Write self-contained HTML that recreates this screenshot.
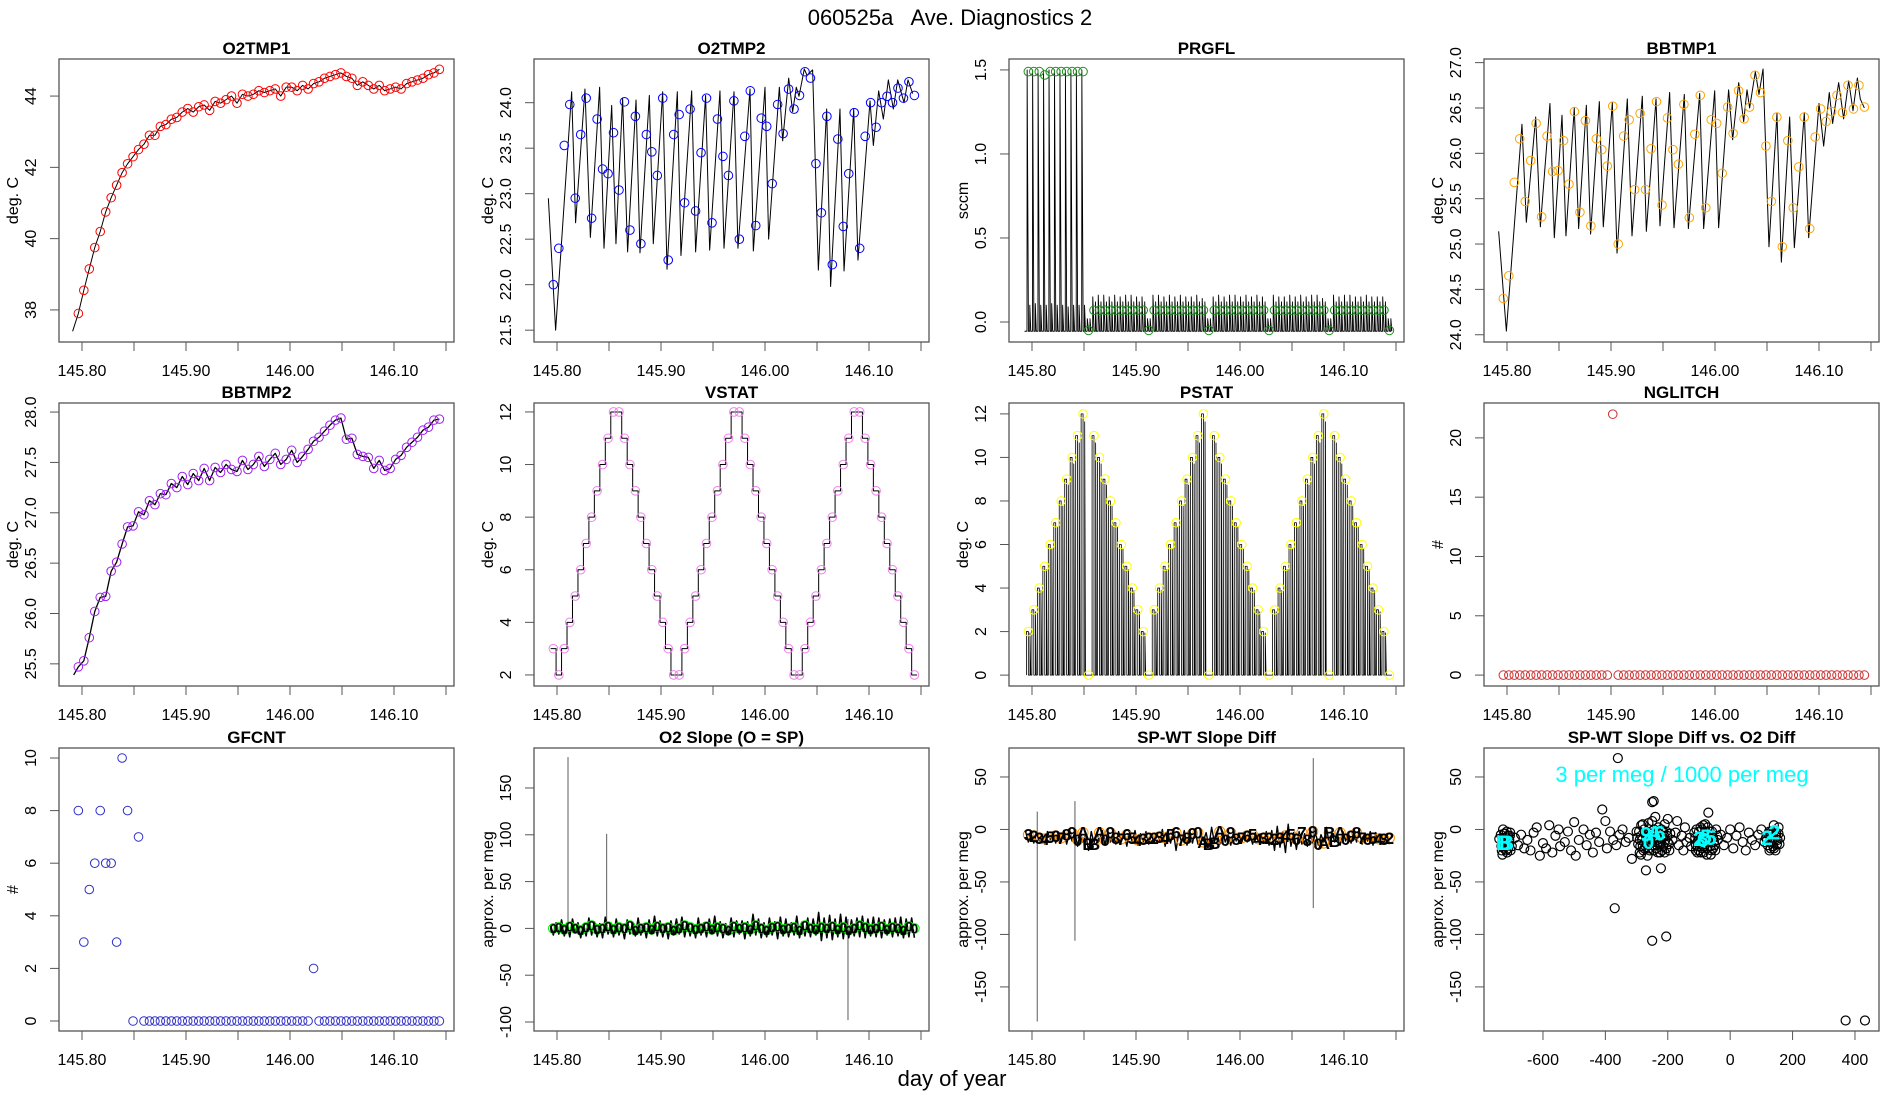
<!DOCTYPE html>
<html><head><meta charset="utf-8"><title>060525a Ave. Diagnostics 2</title>
<style>
html,body{margin:0;padding:0;background:#fff;}
svg{display:block;font-family:"Liberation Sans",Arial,sans-serif;}
</style></head>
<body>
<svg id="chart" xmlns="http://www.w3.org/2000/svg" width="1900" height="1100" viewBox="0 0 1900 1100">
<rect x="0" y="0" width="1900" height="1100" fill="#fff"/>
<text x="950" y="25" text-anchor="middle" font-size="22" xml:space="preserve">060525a   Ave. Diagnostics 2</text>
<text x="952" y="1086" text-anchor="middle" font-size="22">day of year</text>
</svg>
<script>
// ---------- data ----------
const T0 = 145.7965, DT = 0.00526;
const timeTicks = [145.80,145.85,145.90,145.95,146.00,146.05,146.10,146.15];
const timeLabels = ['145.80','','145.90','','146.00','','146.10',''];

const o2t1Pts = [37.9,38.55,39.15,39.75,40.2,40.75,41.15,41.5,41.85,42.1,42.3,42.5,42.65,42.9,42.9,43.15,43.2,43.35,43.4,43.55,43.65,43.55,43.7,43.75,43.6,43.85,43.8,43.9,44.0,43.8,44.05,44.0,44.05,44.15,44.1,44.15,44.2,44.0,44.25,44.25,44.15,44.3,44.2,44.35,44.4,44.5,44.55,44.6,44.65,44.55,44.5,44.3,44.4,44.3,44.2,44.3,44.15,44.2,44.25,44.2,44.35,44.4,44.45,44.5,44.6,44.65,44.75];
const o2t1Start = [145.791, 37.4];

const o2t2Pts = [22.0,22.4,23.53,23.98,22.95,23.65,24.05,22.73,23.82,23.27,23.22,23.67,23.04,24.01,22.6,23.85,22.45,23.65,23.46,23.2,24.05,22.27,23.65,23.87,22.9,23.93,22.81,23.45,24.05,22.68,23.82,23.41,23.2,24.02,22.5,23.63,24.13,22.65,23.83,23.74,23.11,23.98,23.66,24.15,23.93,24.08,24.34,24.27,23.33,22.79,23.85,22.22,23.6,22.64,23.22,23.89,22.4,23.63,24.0,23.73,24.0,24.07,24.0,24.16,24.05,24.23,24.08];
const o2t2LineT = [145.7917,145.7987,145.8141,145.8179,145.8269,145.8321,145.8410,145.8452,145.8526,145.8567,145.8631,145.8679,145.8760,145.8798,145.8888,145.8926,145.9016,145.9058,145.9157,145.9192,145.9295,145.9333,145.9429,145.9468,145.9567,145.9606,145.9702,145.9740,145.9856,145.9888,146.0000,146.0035,146.0138,146.0170,146.0228,146.0266,146.0301,146.0327,146.0378,146.0404,146.0458,146.0513,146.0593,146.0631,146.0721,146.0760,146.0853,146.0894,146.1010,146.1042,146.1093,146.1138,146.1186,146.1234,146.1276,146.1337,146.1375,146.1420];
const o2t2LineV = [22.95,21.5,24.12,22.68,24.15,22.52,24.17,22.4,23.97,22.45,24.05,22.36,24.03,22.35,24.08,22.45,24.12,22.17,24.12,22.32,24.13,22.36,24.08,22.38,24.13,22.4,24.12,22.4,24.15,22.37,24.17,22.5,24.17,23.58,24.27,23.9,24.17,24.07,24.37,24.3,24.36,22.16,23.93,21.98,23.93,22.15,23.93,22.27,24.02,23.53,24.13,23.82,24.25,23.93,24.25,24.0,24.25,24.1];

const prgPts = [1.49,1.49,1.49,1.47,1.49,1.49,1.49,1.49,1.49,1.49,1.49,-0.05,0.07,0.07,0.07,0.07,0.07,0.07,0.07,0.07,0.07,0.07,-0.05,0.07,0.07,0.07,0.07,0.07,0.07,0.07,0.07,0.07,0.07,-0.05,0.07,0.07,0.07,0.07,0.07,0.07,0.07,0.07,0.07,0.07,-0.05,0.07,0.07,0.07,0.07,0.07,0.07,0.07,0.07,0.07,0.07,-0.05,0.07,0.07,0.07,0.07,0.07,0.07,0.07,0.07,0.07,0.07,-0.05];
const prgHi = [1.5,1.5,1.5,1.5,1.5,1.5,1.5,1.5,1.5,1.5,1.5,0.02,0.15,0.16,0.16,0.15,0.16,0.15,0.16,0.16,0.15,0.15,0.02,0.16,0.16,0.15,0.16,0.15,0.16,0.15,0.15,0.16,0.14,0.02,0.15,0.16,0.15,0.16,0.16,0.15,0.16,0.15,0.16,0.15,0.02,0.16,0.15,0.15,0.16,0.15,0.16,0.15,0.16,0.16,0.14,0.02,0.16,0.15,0.16,0.16,0.15,0.15,0.16,0.15,0.15,0.15,0.02];
const prgInner = [0.1,0.11,0.1,0.1,0.11,0.1,0.1,0.09,0.1,0.1,0.1,0.02,0.12,0.12,0.12,0.12,0.12,0.12,0.12,0.12,0.12,0.12,0.02,0.12,0.12,0.12,0.12,0.12,0.12,0.12,0.12,0.12,0.12,0.02,0.12,0.12,0.12,0.12,0.12,0.12,0.12,0.12,0.12,0.12,0.02,0.12,0.12,0.12,0.12,0.12,0.12,0.12,0.12,0.12,0.12,0.02,0.12,0.12,0.12,0.12,0.12,0.12,0.12,0.12,0.12,0.12,0.02];
const prgLo = -0.055;

const bb1Pts = [24.4,24.65,25.68,26.16,25.47,25.92,26.33,25.3,26.19,25.8,25.81,26.14,25.66,26.46,25.35,26.36,25.2,26.16,26.04,25.86,26.52,25.0,26.19,26.37,25.6,26.44,25.6,26.05,26.57,25.43,26.39,26.04,25.88,26.54,25.29,26.21,26.64,25.4,26.37,26.33,25.78,26.51,26.22,26.69,26.38,26.51,26.86,26.67,26.08,25.47,26.4,24.97,26.14,25.4,25.85,26.4,25.17,26.18,26.49,26.35,26.46,26.64,26.45,26.75,26.49,26.75,26.51];
const bb1LineOff = [-8.0,-0.6,14.4,18.6,27.6,32.1,41.3,45.5,52.9,56.7,64.7,68.9,76.3,80.4,88.8,92.6,101.3,105.8,115.7,120.2,130.1,134.0,143.3,147.1,156.4,160.6,170.5,174.4,185.3,189.1,199.7,203.5,213.1,217.0,222.8,227.6,230.8,233.3,238.8,242.3,246.2,251.9,259.6,263.8,271.8,276.3,285.9,290.1,300.0,304.5,309.9,313.1,318.9,323.7,328.5,332.7,336.9,339.7,343.6];
const bb1LineV = [25.14,24.04,26.32,25.24,26.4,25.19,26.55,25.07,26.42,25.09,26.5,25.17,26.53,25.11,26.57,25.19,26.56,24.9,26.6,25.09,26.63,25.14,26.6,25.2,26.67,25.18,26.65,25.17,26.66,25.17,26.69,25.18,26.7,26.15,26.78,26.35,26.7,26.5,26.9,26.65,26.93,24.97,26.44,24.8,26.4,24.96,26.45,25.07,26.55,26.08,26.67,26.33,26.78,26.38,26.8,26.47,26.83,26.6,26.5];

const bb2Pts = [25.47,25.53,25.76,26.02,26.16,26.17,26.42,26.51,26.69,26.86,26.87,27.01,26.98,27.12,27.08,27.19,27.18,27.29,27.25,27.36,27.28,27.39,27.32,27.44,27.32,27.45,27.40,27.48,27.43,27.41,27.52,27.43,27.48,27.56,27.46,27.53,27.59,27.48,27.53,27.62,27.50,27.56,27.63,27.71,27.75,27.81,27.87,27.92,27.94,27.73,27.74,27.58,27.56,27.55,27.44,27.52,27.42,27.44,27.53,27.57,27.65,27.70,27.75,27.82,27.85,27.92,27.93];
const bb2Start = [145.792, 25.39];

const vstat = [3,2,3,4,5,6,7,8,9,10,11,12,12,11,10,9,8,7,6,5,4,3,2,2,3,4,5,6,7,8,9,10,11,12,12,11,10,9,8,7,6,5,4,3,2,2,3,4,5,6,7,8,9,10,11,12,12,11,10,9,8,7,6,5,4,3,2];
const pstat = [2,3,4,5,6,7,8,9,10,11,12,0,11,10,9,8,7,6,5,4,3,2,0,3,4,5,6,7,8,9,10,11,12,0,11,10,9,8,7,6,5,4,3,2,0,3,4,5,6,7,8,9,10,11,12,0,11,10,9,8,7,6,5,4,3,2,0];
const nglitch = [0,0,0,0,0,0,0,0,0,0,0,0,0,0,0,0,0,0,0,0,22,0,0,0,0,0,0,0,0,0,0,0,0,0,0,0,0,0,0,0,0,0,0,0,0,0,0,0,0,0,0,0,0,0,0,0,0,0,0,0,0,0,0,0,0,0,0];
const gfcnt = [8,3,5,6,8,6,6,3,10,8,0,7,0,0,0,0,0,0,0,0,0,0,0,0,0,0,0,0,0,0,0,0,0,0,0,0,0,0,0,0,0,0,0,2,0,0,0,0,0,0,0,0,0,0,0,0,0,0,0,0,0,0,0,0,0,0,0];

const o2sLine = [3,-7,6,-6,9,-8,5,-9,10,-5, 6,-10,4,-8,11,-7,7,-9,5,-10, 12,-6,6,-9,10,-7,4,-11,9,-6, 6,-8,11,-7,5,-10,9,-6,13,-8, 8,-9,5,-11,8,-7,10,-6,12,-9, 7,-8,5,-10,11,-7,6,-9,10,-6, 13,-8,7,-10,5,-7,11,-9,8,-6, 8,-11,7,-8,15,-7,10,-10,6,-9, 11,-7,7,-11,12,-8,10,-9,6,-7, 13,-10,7,-8,11,-9,10,-7,17,-13, 11,-10,14,-12,10,-9,15,-11,12,-10, 9,-8,11,-9,13,-10,10,-8,12,-9, 11,-10,9,-7,10,-9,11,-8,12,-10, 10,-9,11,-10];
const o2sPts = [0,1,-1,2,0,-2,1,3,-1,0,2,-1,1,0,3,-2,0,1,-1,2,0,1,-2,0,3,1,-1,0,2,-1,1,0,-2,2,0,1,-1,3,0,-2,1,2,-1,0,1,-2,3,0,-1,1,0,2,-1,1,-2,0,3,1,-1,0,2,-1,1,0,-2,2,0];
const o2sSpikeT = [145.8106,145.8477,146.0798];
const o2sSpikeHi = [183,101,10];
const o2sSpikeLo = [-5,0,-98];

const spwtLine = [-2,-12,-4,-13,-3,-11,-5,-14,-2,-10, -4,-13,-3,-12,-1,-14,-4,-11,-2,-16, -3,-12,-5,-20,-2,-13,-4,-11,-1,-15, -3,-12,-5,-14,-2,-11,-4,-16,-3,-12, -1,-15,-4,-12,-2,-14,-5,-13,-3,-11, 0,-16,-4,-13,-2,-20,-3,-12,-1,-15, -4,-13,-2,-14,-5,-11,-3,-16,2,-12, -4,-14,-2,-12,-5,-15,-3,-11,-4,-13, -2,-12,-5,-14,-3,-11,-4,-13,-2,-15, -1,-20,3,-17,-2,-22,5,-16,-3,-19, -2,-14,-4,-16,-1,-13,-3,-15,-5,-12, 2,-14,-3,-12,-5,-15,-2,-11,-4,-13, -3,-12,-1,-14,-4,-11,-2,-15,-3,-12, -5,-13,-4,-14];
const spwtPts = [-5,-6,-8,-9,-7,-6,-8,-5,-3,-10,-3,-14,-14,-3,-10,-3,-8,-9,-5,-8,-10,-9,-8,-8,-7,-8,-5,-3,-10,-8,-4,-3,-12,-14,-13,-2,-10,-3,-9,-8,-6,-5,-9,-8,-8,-9,-8,-6,-5,-9,-3,-10,-2,-14,-13,-3,-11,-3,-9,-6,-3,-8,-9,-8,-9,-9,-8];
const spwtSpikeT = [145.8051,145.8413,146.0705];
const spwtSpikeHi = [17,27,68];
const spwtSpikeLo = [-183,-106,-75];
const levelChars = ['0','1','2','3','4','5','6','7','8','9','0','A','B'];

const scatterPts = [[-735,-5],[-730,-12],[-725,-18],[-720,-8],[-715,-22],[-710,-14],[-705,-3],[-730,-24],[-720,-15],[-712,-6],[-728,0],[-718,-20],[-708,-10],[-700,-16],[-740,-9],[-724,-4],[-733,-16],[-716,-12],
[-690,-8],[-680,-15],[-670,-5],[-660,-18],[-650,-10],[-640,-20],[-630,-3],[-620,2],[-610,-25],[-600,-13],[-590,-18],[-580,4],[-570,-22],[-560,-6],[-550,0],[-545,-16],[-530,-12],[-520,-2],[-510,-20],[-500,7],[-495,-25],[-485,-10],[-470,0],[-460,-15],[-450,-5],[-440,-22],[-430,-3],[-420,-12],[-410,19],[-400,8],[-395,-18],[-385,-2],[-375,-10],[-365,-15],[-355,-5],[-345,0],[-335,-12],[-325,-8],[-315,-28],[-360,68],[-370,-75],
[-300,-2],[-295,-14],[-290,-22],[-285,-6],[-280,5],[-275,-18],[-270,-10],[-265,-25],[-260,0],[-255,-12],[-250,8],[-245,-20],[-240,-4],[-235,-15],[-230,2],[-225,-22],[-220,-8],[-215,-16],[-210,5],[-205,-2],[-200,-12],[-195,-20],[-290,-10],[-280,-16],[-265,-5],[-250,-15],[-235,-8],[-220,0],[-205,-18],[-270,-39],[-222,-37],[-250,26],[-245,27],[-250,-106],[-205,-102],[-240,12],[-200,10],[-285,4],[-260,-18],[-230,-12],[-212,-6],
[-185,-10],[-175,-3],[-170,8],[-165,-15],[-155,-6],[-150,-20],[-145,2],[-140,-12],[-130,-8],[-125,-16],
[-115,-3],[-110,-15],[-105,-22],[-100,-8],[-95,2],[-90,-18],[-85,-10],[-80,5],[-75,-24],[-70,-12],[-65,-2],[-60,-20],[-55,-8],[-50,-15],[-45,0],[-40,-10],[-100,-20],[-90,0],[-80,-14],[-70,16],[-60,-6],[-105,-12],[-85,-22],[-95,-12],[-75,-6],[-55,-18],
[-30,-5],[-20,-15],[-10,-8],[0,0],[10,-18],[20,-6],[30,2],[40,-12],[50,-20],[60,-3],[70,-10],[80,-15],[90,-5],[100,0],[110,-12],
[115,-8],[120,-15],[125,-2],[130,-18],[135,-10],[140,4],[145,-6],[150,-14],[155,2],[160,-8],[130,-5],[145,-20],
[370,-182],[432,-182]];
// dense cluster cores (many overlapping samples)
const densePts = [[-728,-8],[-722,-4],[-718,-10],[-726,-16],[-712,-18],[-732,-20],[-716,-2],[-706,-6],[-704,-20],[-724,-12],
[-298,-8],[-292,-2],[-288,-16],[-282,-10],[-278,-20],[-272,-4],[-268,-14],[-262,-8],[-258,-20],[-254,-4],[-248,-10],[-244,0],[-238,-18],[-234,-10],[-228,-4],[-224,-14],[-218,-20],[-214,-2],[-208,-10],[-202,-6],[-196,-14],[-192,-4],[-286,-24],[-262,6],[-232,-22],[-210,-22],[-276,0],[-244,-12],
[-112,-8],[-108,0],[-104,-16],[-98,-12],[-94,-22],[-88,-6],[-84,-16],[-78,-2],[-74,-18],[-68,-8],[-64,-16],[-58,-2],[-52,-12],[-48,-20],[-42,-6],[-110,-20],[-92,-8],[-72,2],[-62,-24],[-86,4],[-100,-2],[-66,-12],
[118,-10],[122,-4],[128,-12],[132,-2],[138,-16],[142,-10],[148,-4],[152,-10],[158,-14],[126,-20],[140,-18],[155,-4]];
const cyanLabX = [-727,-717,-270,-262,-242,-226,-100,-88,-78,-62,118,142];
const cyanLabY = [-13,-13,-5,-12,-4,-4,-9,-10,-7,-8,-8,-3];
const cyanLabTxt = ['B','B','9','0','A','6','2','6','5','5','2','2'];
const scXTicks = [-600,-400,-200,0,200,400];

// ---------- helpers ----------
const NS = 'http://www.w3.org/2000/svg';
const svg = document.getElementById('chart');
function el(tag, attrs, parent){
  const e = document.createElementNS(NS, tag);
  for (const k in attrs) e.setAttribute(k, attrs[k]);
  (parent || svg).appendChild(e);
  return e;
}
const W = 395, H = 283;
const COLX = [59, 534, 1009, 1484], ROWY = [59, 403, 748];
const TIME_DOM = [145.7779, 146.1577];
function T(i){ return T0 + i * DT; }

function panel(key, col, row, xd, yd, xt, xl, yt, yl, title, ytitle){
  const x0 = COLX[col], y0 = ROWY[row];
  const g = el('g', {});
  
  
  const sx = v => x0 + (v - xd[0]) / (xd[1] - xd[0]) * W;
  const sy = v => y0 + H - (v - yd[0]) / (yd[1] - yd[0]) * H;
  const dg = el('g', {}, g);
  
  
  const box = el('rect', {x:x0, y:y0, width:W, height:H, fill:'none', stroke:'#555', 'stroke-width':1.3}, g);
  
  
  const t = el('text', {x:x0 + W/2, y:y0 - 5, 'text-anchor':'middle', 'font-size':17, 'font-weight':'bold'}, g);
  t.textContent = title;
  
  
  const xa = el('g', {stroke:'#555'}, g);
  
  
  xt.forEach((v, i) => {
    const tk = el('line', {x1:sx(v), x2:sx(v), y1:y0 + H, y2:y0 + H + 9, 'stroke-width':1}, xa);
    
    
    if (xl[i]) {
      const lb = el('text', {x:sx(v), y:y0 + H + 34, 'text-anchor':'middle', 'font-size':16, stroke:'none', fill:'#000'}, xa);
      lb.textContent = xl[i];
      
      
    }
  });
  const ya = el('g', {stroke:'#555'}, g);
  
  
  yt.forEach((v, i) => {
    const tk = el('line', {x1:x0 - 9, x2:x0, y1:sy(v), y2:sy(v), 'stroke-width':1}, ya);
    
    
    const lx = x0 - 23, ly = sy(v);
    const lb = el('text', {x:lx, y:ly, 'text-anchor':'middle', 'font-size':16, stroke:'none', fill:'#000', transform:'rotate(-90 ' + lx + ' ' + ly + ')'}, ya);
    lb.textContent = yl[i];
    
    
  });
  const tx = x0 - 41, ty = y0 + H/2;
  const yt2 = el('text', {x:tx, y:ty, 'text-anchor':'middle', 'font-size':16, transform:'rotate(-90 ' + tx + ' ' + ty + ')'}, g);
  yt2.textContent = ytitle;
  
  
  return {sx, sy, g:dg};
}
function polyline(p, pts, color, width, name){
  const e = el('polyline', {points: pts.map(q => p.sx(q[0]).toFixed(2) + ',' + p.sy(q[1]).toFixed(2)).join(' '), fill:'none', stroke:color, 'stroke-width':width, 'stroke-linejoin':'round'}, p.g);
  
  
  return e;
}
function circles(p, vals, color, name, r){
  vals.forEach((v, i) => {
    const c = el('circle', {cx:p.sx(T(i)), cy:p.sy(v), r:r || 4.3, fill:'none', stroke:color, 'stroke-width':1}, p.g);
    
    
  });
}
function fmt(arr, d){ return arr.map(v => v.toFixed(d)); }

// ---------- P1 O2TMP1 ----------
(function(){
  const yt = [38,40,42,44];
  const p = panel('o2tmp1', 0, 0, TIME_DOM, [37.1, 45.04], timeTicks, timeLabels, yt, fmt(yt,0), 'O2TMP1', 'deg. C');
  polyline(p, [o2t1Start].concat(o2t1Pts.map((v,i) => [T(i), v])), '#000', 1, 'o2tmp1-line');
  circles(p, o2t1Pts, '#ff0000', 'o2tmp1-point');
})();
// ---------- P2 O2TMP2 ----------
(function(){
  const yt = [21.5,22,22.5,23,23.5,24];
  const p = panel('o2tmp2', 1, 0, TIME_DOM, [21.37, 24.48], timeTicks, timeLabels, yt, fmt(yt,1), 'O2TMP2', 'deg. C');
  polyline(p, o2t2LineT.map((t,i) => [t, o2t2LineV[i]]), '#000', 1, 'o2tmp2-line');
  circles(p, o2t2Pts, '#0000ff', 'o2tmp2-point');
})();
// ---------- P3 PRGFL ----------
(function(){
  const yt = [0,0.5,1,1.5];
  const p = panel('prgfl', 2, 0, TIME_DOM, [-0.119, 1.565], timeTicks, timeLabels, yt, fmt(yt,1), 'PRGFL', 'sccm');
  const pts = [[T(0) - DT*0.7, prgLo]];
  prgHi.forEach((h, i) => { pts.push([T(i) - DT*0.25, prgLo]); pts.push([T(i) - DT*0.22, h]); pts.push([T(i) + DT*0.02, prgLo]); pts.push([T(i) + DT*0.25, prgLo]); pts.push([T(i) + DT*0.27, prgInner[i]]); pts.push([T(i) + DT*0.45, prgLo]); });
  polyline(p, pts, '#000', 0.9, 'prgfl-line');
  circles(p, prgPts, '#228b22', 'prgfl-point');
})();
// ---------- P4 BBTMP1 ----------
(function(){
  const yt = [24,24.5,25,25.5,26,26.5,27];
  const p = panel('bbtmp1', 3, 0, TIME_DOM, [23.92, 27.04], timeTicks, timeLabels, yt, fmt(yt,1), 'BBTMP1', 'deg. C');
  polyline(p, bb1LineOff.map((o,i) => [145.8 + o/1000, bb1LineV[i]]), '#000', 1, 'bbtmp1-line');
  circles(p, bb1Pts, '#ffa500', 'bbtmp1-point');
})();
// ---------- P5 BBTMP2 ----------
(function(){
  const yt = [25.5,26,26.5,27,27.5,28];
  const p = panel('bbtmp2', 0, 1, TIME_DOM, [25.28, 28.09], timeTicks, timeLabels, yt, fmt(yt,1), 'BBTMP2', 'deg. C');
  polyline(p, [bb2Start].concat(bb2Pts.map((v,i) => [T(i), v])), '#000', 1.3, 'bbtmp2-line');
  circles(p, bb2Pts, '#a020f0', 'bbtmp2-point');
})();
// ---------- P6 VSTAT ----------
(function(){
  const yt = [2,4,6,8,10,12];
  const p = panel('vstat', 1, 1, TIME_DOM, [1.58, 12.34], timeTicks, timeLabels, yt, fmt(yt,0), 'VSTAT', 'deg. C');
  const pts = [];
  vstat.forEach((v, i) => { pts.push([T(i) - DT*0.5, v]); pts.push([T(i) + DT*0.5, v]); });
  polyline(p, pts, '#000', 1, 'vstat-line');
  circles(p, vstat, '#ee82ee', 'vstat-point');
})();
// ---------- P7 PSTAT ----------
(function(){
  const yt = [0,2,4,6,8,10,12];
  const p = panel('pstat', 2, 1, TIME_DOM, [-0.5, 12.5], timeTicks, timeLabels, yt, fmt(yt,0), 'PSTAT', 'deg. C');
  const pts = [];
  pstat.forEach((v, i) => { pts.push([T(i) - DT*0.35, 0]); pts.push([T(i) - DT*0.35, v]); pts.push([T(i), v]); pts.push([T(i), 0]); pts.push([T(i) + DT*0.3, 0]); pts.push([T(i) + DT*0.3, v*0.97]); pts.push([T(i) + DT*0.45, 0]); });
  polyline(p, pts, '#000', 0.8, 'pstat-line');
  circles(p, pstat, '#ffff00', 'pstat-point');
})();
// ---------- P8 NGLITCH ----------
(function(){
  const yt = [0,5,10,15,20];
  const p = panel('nglitch', 3, 1, TIME_DOM, [-0.92, 22.94], timeTicks, timeLabels, yt, fmt(yt,0), 'NGLITCH', '#');
  circles(p, nglitch, '#cd3333', 'nglitch-point');
})();
// ---------- P9 GFCNT ----------
(function(){
  const yt = [0,2,4,6,8,10];
  const p = panel('gfcnt', 0, 2, TIME_DOM, [-0.38, 10.38], timeTicks, timeLabels, yt, fmt(yt,0), 'GFCNT', '#');
  circles(p, gfcnt, '#3030c8', 'gfcnt-point');
})();
// ---------- P10 O2 Slope ----------
(function(){
  const yt = [-100,-50,0,50,100,150];
  const p = panel('o2slope', 1, 2, TIME_DOM, [-109.6, 192.7], timeTicks, timeLabels, yt, fmt(yt,0), 'O2 Slope (O = SP)', 'approx. per meg');
  o2sSpikeT.forEach((t, i) => {
    const s = el('line', {x1:p.sx(t), x2:p.sx(t), y1:p.sy(o2sSpikeLo[i]), y2:p.sy(o2sSpikeHi[i]), stroke:'#777', 'stroke-width':1.2}, p.g);
    
    
  });
  polyline(p, o2sLine.map((v, j) => [T(0) - DT*0.5 + j*DT/2, v]), '#000', 1.6, 'o2slope-line');
  circles(p, o2sPts, '#00ee00', 'o2slope-point', 4.8);
  o2sPts.forEach((v, i) => {
    const tx = el('text', {x:p.sx(T(i)), y:p.sy(v) + 5, 'text-anchor':'middle', 'font-size':14, 'font-weight':'bold', fill:'#000'}, p.g);
    tx.textContent = '0';
    
    
  });
})();
// ---------- P11 SP-WT Slope Diff ----------
(function(){
  const yt = [-150,-100,-50,0,50];
  const p = panel('spwt', 2, 2, TIME_DOM, [-192, 77.6], timeTicks, timeLabels, yt, fmt(yt,0), 'SP-WT Slope Diff', 'approx. per meg');
  spwtSpikeT.forEach((t, i) => {
    const s = el('line', {x1:p.sx(t), x2:p.sx(t), y1:p.sy(spwtSpikeLo[i]), y2:p.sy(spwtSpikeHi[i]), stroke:'#777', 'stroke-width':1.2}, p.g);
    
    
  });
  polyline(p, spwtLine.map((v, j) => [T(0) - DT*0.5 + j*DT/2, v]), '#000', 1.4, 'spwt-line');
  circles(p, spwtPts, '#ff8c00', 'spwt-point', 5);
  spwtPts.forEach((v, i) => {
    const tx = el('text', {x:p.sx(T(i)), y:p.sy(v) + 6, 'text-anchor':'middle', 'font-size':17, 'font-weight':'bold', fill:'#000'}, p.g);
    tx.textContent = levelChars[vstat[i]];
    
    
  });
})();
// ---------- P12 scatter ----------
(function(){
  const yt = [-150,-100,-50,0,50];
  const p = panel('spwt-vs-o2', 3, 2, [-789, 477], [-192, 77.6], scXTicks, fmt(scXTicks,0), yt, fmt(yt,0), 'SP-WT Slope Diff vs. O2 Diff', 'approx. per meg');
  scatterPts.concat(densePts).forEach(q => {
    const c = el('circle', {cx:p.sx(q[0]), cy:p.sy(q[1]), r:4.5, fill:'none', stroke:'#000', 'stroke-width':1.2}, p.g);
    
    
  });
  cyanLabX.forEach((x, i) => {
    const tx = el('text', {x:p.sx(x), y:p.sy(cyanLabY[i]) + 7, 'text-anchor':'middle', 'font-size':21, 'font-weight':'bold', fill:'#00ffff'}, p.g);
    tx.textContent = cyanLabTxt[i];
    
    
  });
  const ann = el('text', {x:1682, y:782, 'text-anchor':'middle', 'font-size':22, fill:'#00ffff'}, p.g);
  ann.textContent = '3 per meg / 1000 per meg';
  
  
})();
</script>
</body></html>
